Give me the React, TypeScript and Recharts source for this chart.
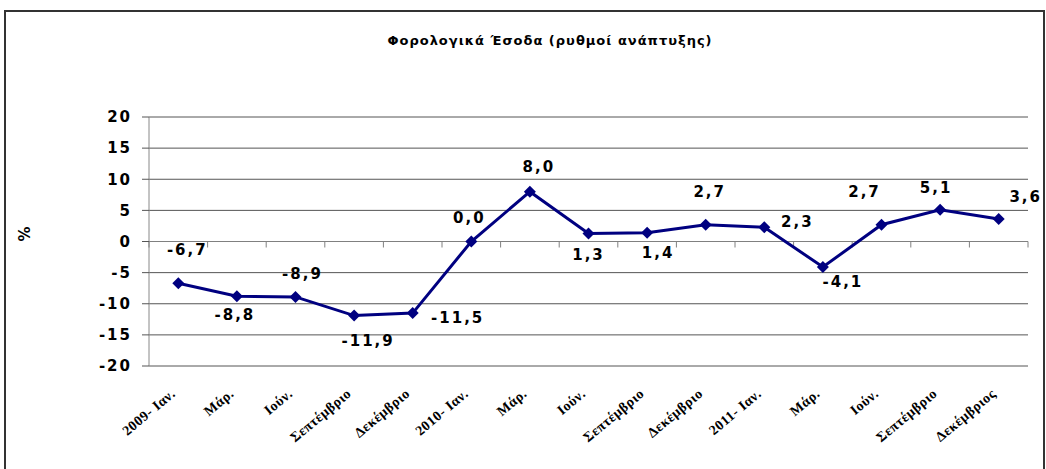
import {
  LineChart,
  Line,
  XAxis,
  YAxis,
  CartesianGrid,
  ReferenceLine,
  LabelList
} from 'recharts';

const categories = [
  '2009- Ιαν.',
  'Μάρ.',
  'Ιούν.',
  'Σεπτέμβριο',
  'Δεκέμβριο',
  '2010- Ιαν.',
  'Μάρ.',
  'Ιούν.',
  'Σεπτέμβριο',
  'Δεκέμβριο',
  '2011- Ιαν.',
  'Μάρ.',
  'Ιούν.',
  'Σεπτέμβριο',
  'Δεκέμβριος'
];

const growth = [-6.7, -8.8, -8.9, -11.9, -11.5, 0.0, 8.0, 1.3, 1.4, 2.7, 2.3, -4.1, 2.7, 5.1, 3.6];

const yTicks = [-20, -15, -10, -5, 0, 5, 10, 15, 20];

// where each value label sits relative to its point (like the hand-placed labels in the original)
const labelOffsets: [number, number][] = [
  [9, -33], [-2, 19], [7, -23], [14, 25], [45, 5],
  [-2, -24], [9, -25], [0, 22], [11, 20], [4, -33],
  [33, -5], [20, 15], [-17, -33], [-4, -22], [27, -22]
];

// month names repeat, so the axis runs on the row index
const data = categories.map((name, i) => ({ idx: i, name, value: growth[i] }));

const labelFont = "'DejaVu Sans', Verdana, sans-serif";

function Diamond(props: any) {
  const { cx, cy } = props;
  if (cx == null || cy == null) return null;
  const r = 6;
  return (
    <polygon
      points={`${cx},${cy - r} ${cx + r},${cy} ${cx},${cy + r} ${cx - r},${cy}`}
      fill="#000080"
    />
  );
}

function ValueLabel(props: any) {
  const { x, y, value, index } = props;
  const [dx, dy] = labelOffsets[index] ?? [0, -20];
  return (
    <text
      x={x + dx}
      y={y + dy}
      textAnchor="middle"
      dominantBaseline="central"
      fontFamily={labelFont}
      fontWeight="bold"
      fontSize={15}
      letterSpacing={2}
      fill="#000"
    >
      {String(value.toFixed(1)).replace('.', ',')}
    </text>
  );
}

function CategoryTick(props: any) {
  const { x, y, payload } = props;
  const tx = x - 2;
  const ty = y + 21;
  return (
    <g transform={`translate(${tx}, ${ty}) rotate(-40)`}>
      <text
        x={0}
        y={0}
        textAnchor="end"
        fontFamily="'Liberation Serif', 'Times New Roman', serif"
        fontWeight="bold"
        fontSize={14}
        letterSpacing={0.5}
        fill="#000"
      >
        {categories[payload.value]}
      </text>
    </g>
  );
}

function ZeroAxis(props: any) {
  const { x1, x2, y1 } = props;
  if (x1 == null) return null;
  const n = categories.length;
  const step = (x2 - x1) / n;
  const marks = Array.from({ length: n + 1 }, (_, i) => x1 + i * step);
  return (
    <g>
      <line x1={x1} x2={x2} y1={y1} y2={y1} stroke="#808080" strokeWidth={1} />
      {marks.map((mx, i) => (
        <line key={i} x1={mx} x2={mx} y1={y1} y2={y1 + 6} stroke="#808080" strokeWidth={1} />
      ))}
    </g>
  );
}

export default function App() {
  return (
    <div style={{ position: 'absolute', left: 0, top: 0, width: 1046, height: 469, background: '#fff', overflow: 'hidden' }}>
      <div
        style={{
          position: 'absolute',
          left: 4,
          top: 10,
          width: 1037,
          height: 470,
          border: '2px solid #333'
        }}
      />
      <div
        style={{
          position: 'absolute',
          left: 0,
          top: 33,
          width: 1100,
          textAlign: 'center',
          fontFamily: labelFont,
          fontWeight: 'bold',
          fontSize: 13,
          letterSpacing: 1,
          color: '#000'
        }}
      >
        Φορολογικά Έσοδα (ρυθμοί ανάπτυξης)
      </div>
      <div style={{ position: 'absolute', left: 0, top: 0 }}>
        <LineChart width={1046} height={469} data={data} margin={{ top: 117, right: 18, bottom: 0, left: 0 }}>
          <CartesianGrid horizontal vertical={false} stroke="#555" />
          <XAxis
            dataKey="idx"
            type="category"
            scale="band"
            axisLine={false}
            tickLine={false}
            height={103}
            interval={0}
            tick={<CategoryTick />}
          />
          <YAxis
            domain={[-20, 20]}
            ticks={yTicks}
            width={149}
            axisLine={{ stroke: '#888' }}
            tickLine={{ stroke: '#555' }}
            tickSize={7}
            tickMargin={10}
            tick={{ fontFamily: labelFont, fontWeight: 'bold', fontSize: 15, fill: '#000', letterSpacing: 2 }}
            label={{
              value: '%',
              angle: -90,
              position: 'insideLeft',
              offset: 25,
              style: { fontFamily: labelFont, fontWeight: 'bold', fontSize: 15, fill: '#000' }
            }}
          />
          <ReferenceLine y={0} shape={<ZeroAxis />} />
          <Line
            type="linear"
            dataKey="value"
            stroke="#000080"
            strokeWidth={3}
            dot={<Diamond />}
            activeDot={false}
            isAnimationActive={false}
          >
            <LabelList dataKey="value" content={<ValueLabel />} />
          </Line>
        </LineChart>
      </div>
    </div>
  );
}
